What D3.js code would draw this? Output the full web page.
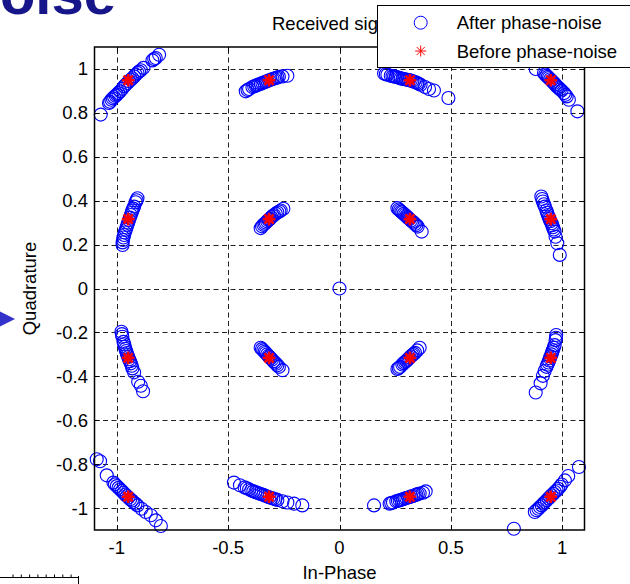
<!DOCTYPE html>
<html>
<head>
<meta charset="utf-8">
<script src="https://cdn.jsdelivr.net/npm/d3@7"></script>
<style>
  body { margin: 0; background: #fff; }
  svg { display: block; font-family: "Liberation Sans", Arial, sans-serif; }
</style>
</head>
<body>
<script>
const W = 630, H = 584;

// axis ticks
const xTicks = [-1, -0.5, 0, 0.5, 1];
const yTicks = [-1, -0.8, -0.6, -0.4, -0.2, 0, 0.2, 0.4, 0.6, 0.8, 1];
const xTickLabels = ["-1", "-0.5", "0", "0.5", "1"];
const yTickLabels = ["-1", "-0.8", "-0.6", "-0.4", "-0.2", "0", "0.2", "0.4", "0.6", "0.8", "1"];

// 16-QAM symbols before phase noise
const idealLevels = [-0.9487, -0.3162, 0.3162, 0.9487];

// received symbols after phase noise, [I, Q]
const rxUpperLeft = [
  [-1.072,0.792],[-1.035,0.845],[-1.030,0.850],[-1.024,0.860],[-1.018,0.866],[-1.012,0.872],[-1.005,0.878],[-1.000,0.883],
  [-0.993,0.890],[-0.985,0.898],[-0.975,0.910],[-0.967,0.921],[-0.960,0.928],[-0.952,0.936],[-0.945,0.944],[-0.937,0.951],
  [-0.930,0.958],[-0.922,0.966],[-0.915,0.974],[-0.907,0.982],[-0.900,0.988],[-0.892,0.994],[-0.880,1.005],[-0.840,1.039],
  [-0.832,1.045],[-0.825,1.050],[-0.810,1.065],
  [-0.421,0.898],[-0.413,0.904],[-0.406,0.909],[-0.391,0.918],[-0.383,0.921],[-0.376,0.924],[-0.368,0.927],[-0.361,0.930],
  [-0.353,0.933],[-0.346,0.936],[-0.338,0.939],[-0.331,0.942],[-0.324,0.945],[-0.316,0.948],[-0.309,0.951],[-0.301,0.954],
  [-0.294,0.956],[-0.286,0.959],[-0.279,0.961],[-0.272,0.964],[-0.256,0.966],[-0.234,0.969],
  [-0.907,0.411],[-0.911,0.402],[-0.915,0.393],[-0.922,0.373],[-0.926,0.364],[-0.930,0.355],[-0.933,0.345],[-0.937,0.335],
  [-0.941,0.323],[-0.945,0.312],[-0.949,0.300],[-0.952,0.290],[-0.956,0.278],[-0.960,0.267],[-0.964,0.255],[-0.967,0.244],
  [-0.970,0.232],[-0.972,0.221],[-0.974,0.210],[-0.974,0.198],
  [-0.354,0.275],[-0.348,0.283],[-0.342,0.290],[-0.336,0.295],[-0.331,0.300],[-0.325,0.306],[-0.319,0.312],[-0.315,0.315],
  [-0.312,0.318],[-0.306,0.325],[-0.300,0.330],[-0.294,0.335],[-0.286,0.341],[-0.279,0.346],[-0.270,0.351],[-0.264,0.355],
  [-0.252,0.363]
];
const rxUpperRight = [
  [0.200,0.979],[0.208,0.976],[0.215,0.974],[0.230,0.969],[0.238,0.967],[0.245,0.966],[0.252,0.964],[0.260,0.962],
  [0.268,0.960],[0.275,0.957],[0.283,0.955],[0.290,0.954],[0.298,0.952],[0.305,0.951],[0.312,0.949],[0.320,0.947],
  [0.327,0.945],[0.334,0.942],[0.342,0.939],[0.349,0.936],[0.356,0.932],[0.364,0.928],[0.384,0.918],[0.402,0.909],
  [0.424,0.902],[0.489,0.868],
  [0.881,1.000],[0.918,0.982],[0.924,0.975],[0.929,0.969],[0.935,0.964],[0.940,0.959],[0.946,0.953],[0.952,0.947],
  [0.958,0.941],[0.963,0.936],[0.968,0.930],[0.973,0.924],[0.979,0.918],[0.985,0.913],[0.990,0.907],[0.997,0.902],
  [1.008,0.890],[1.014,0.882],[1.020,0.875],[1.030,0.860],[1.068,0.807],
  [0.260,0.366],[0.266,0.360],[0.272,0.355],[0.277,0.350],[0.282,0.346],[0.288,0.340],[0.294,0.335],[0.300,0.330],
  [0.305,0.325],[0.310,0.320],[0.315,0.316],[0.321,0.310],[0.327,0.305],[0.333,0.300],[0.339,0.294],[0.345,0.288],
  [0.351,0.282],[0.369,0.259],
  [0.906,0.419],[0.910,0.408],[0.913,0.396],[0.918,0.384],[0.922,0.373],[0.929,0.355],[0.932,0.345],[0.936,0.335],
  [0.940,0.325],[0.943,0.316],[0.947,0.306],[0.952,0.297],[0.955,0.288],[0.958,0.279],[0.962,0.269],[0.966,0.259],
  [0.970,0.236],[0.978,0.206],[0.989,0.153]
];
const rxLowerLeft = [
  [-0.979,-0.197],[-0.977,-0.208],[-0.975,-0.220],[-0.970,-0.243],[-0.967,-0.254],[-0.964,-0.265],[-0.961,-0.275],
  [-0.958,-0.285],[-0.955,-0.294],[-0.952,-0.303],[-0.948,-0.312],[-0.945,-0.322],[-0.941,-0.331],[-0.937,-0.341],
  [-0.933,-0.352],[-0.930,-0.364],[-0.922,-0.382],[-0.904,-0.425],[-0.892,-0.443],[-0.882,-0.468],
  [-0.354,-0.270],[-0.348,-0.276],[-0.342,-0.282],[-0.336,-0.288],[-0.331,-0.294],[-0.325,-0.300],[-0.319,-0.307],
  [-0.314,-0.312],[-0.309,-0.318],[-0.303,-0.324],[-0.297,-0.331],[-0.291,-0.337],[-0.285,-0.343],[-0.279,-0.350],
  [-0.272,-0.357],[-0.256,-0.372],
  [-1.090,-0.778],[-1.075,-0.787],[-1.045,-0.851],[-1.015,-0.884],[-1.008,-0.892],[-1.000,-0.900],[-0.992,-0.908],
  [-0.985,-0.915],[-0.977,-0.922],[-0.970,-0.930],[-0.962,-0.938],[-0.955,-0.945],[-0.947,-0.952],[-0.940,-0.960],
  [-0.932,-0.966],[-0.925,-0.973],[-0.916,-0.980],[-0.907,-0.988],[-0.889,-1.003],[-0.870,-1.018],[-0.847,-1.033],
  [-0.825,-1.056],[-0.802,-1.082],
  [-0.474,-0.884],[-0.447,-0.896],[-0.426,-0.906],[-0.416,-0.910],[-0.406,-0.915],[-0.396,-0.920],[-0.387,-0.924],
  [-0.378,-0.927],[-0.369,-0.930],[-0.360,-0.934],[-0.351,-0.937],[-0.342,-0.940],[-0.333,-0.944],[-0.324,-0.948],
  [-0.315,-0.951],[-0.306,-0.954],[-0.297,-0.957],[-0.288,-0.960],[-0.279,-0.963],[-0.256,-0.969],[-0.234,-0.975],
  [-0.204,-0.980],[-0.167,-0.988]
];
const rxLowerRight = [
  [0.260,-0.367],[0.266,-0.362],[0.272,-0.357],[0.282,-0.346],[0.288,-0.340],[0.294,-0.335],[0.300,-0.330],[0.305,-0.325],
  [0.310,-0.320],[0.315,-0.314],[0.321,-0.309],[0.327,-0.303],[0.333,-0.298],[0.339,-0.293],[0.349,-0.282],[0.360,-0.270],
  [0.973,-0.212],[0.972,-0.224],[0.970,-0.235],[0.966,-0.258],[0.962,-0.270],[0.958,-0.281],[0.955,-0.290],[0.952,-0.300],
  [0.948,-0.309],[0.945,-0.318],[0.941,-0.328],[0.938,-0.337],[0.933,-0.347],[0.929,-0.357],[0.921,-0.376],[0.913,-0.398],
  [0.903,-0.432],[0.881,-0.474],
  [0.155,-0.988],[0.225,-0.980],[0.232,-0.977],[0.240,-0.975],[0.255,-0.969],[0.262,-0.967],[0.270,-0.965],[0.277,-0.962],
  [0.285,-0.960],[0.292,-0.957],[0.300,-0.954],[0.308,-0.952],[0.315,-0.950],[0.322,-0.947],[0.330,-0.945],[0.338,-0.942],
  [0.345,-0.939],[0.352,-0.936],[0.360,-0.934],[0.375,-0.930],[0.387,-0.924],
  [0.783,-1.094],[0.877,-1.018],[0.885,-1.010],[0.893,-1.003],[0.900,-0.995],[0.908,-0.988],[0.915,-0.980],[0.922,-0.973],
  [0.930,-0.965],[0.938,-0.957],[0.945,-0.950],[0.952,-0.942],[0.960,-0.935],[0.967,-0.927],[0.975,-0.920],[0.982,-0.912],
  [0.990,-0.903],[0.997,-0.893],[1.012,-0.874],[1.027,-0.854],[1.075,-0.813]
];
const rxCentre = [[0, 0]];

const titleText = "Received signal";
const xLabel = "In-Phase";
const yLabel = "Quadrature";
const legendLabels = ["After phase-noise", "Before phase-noise"];

const svg = d3.select("body").append("svg").attr("width", W).attr("height", H);

const plot = {left: 94.5, right: 584.5, top: 47, bottom: 530};
const x = d3.scaleLinear().domain([-1.1, 1.1]).range([plot.left, plot.right]);
const y = d3.scaleLinear().domain([-1.1, 1.1]).range([plot.bottom, plot.top]);

// slide decoration around the cropped figure
svg.append("text").attr("x", 116).attr("y", 14).attr("text-anchor", "end")
  .attr("font-size", 58).attr("font-weight", "bold").attr("fill", "#16168a")
  .text("Phase Noise");
svg.append("path").attr("d", "M0,311.5 L15,319 L0,326.5 Z").attr("fill", "#3333cc");
let ruler = svg.append("g").attr("stroke", "#000").attr("stroke-width", 1).attr("fill", "none");
ruler.append("line").attr("x1", 0).attr("x2", 79).attr("y1", 577.5).attr("y2", 577.5);
ruler.append("line").attr("x1", 78.5).attr("x2", 78.5).attr("y1", 576).attr("y2", 584);
d3.range(13, 78, 8.3).forEach(t => {
  ruler.append("line").attr("x1", t).attr("x2", t).attr("y1", 577.5).attr("y2", 574.5);
});

// grid
let grid = svg.append("g").attr("stroke", "#222").attr("stroke-width", 1).attr("stroke-dasharray", "5,3.5");
grid.selectAll(".gx").data(xTicks).enter().append("line")
  .attr("x1", d => Math.round(x(d)) + 0.5).attr("x2", d => Math.round(x(d)) + 0.5)
  .attr("y1", plot.bottom).attr("y2", plot.top);
grid.selectAll(".gy").data(yTicks).enter().append("line")
  .attr("y1", d => Math.round(y(d)) + 0.5).attr("y2", d => Math.round(y(d)) + 0.5)
  .attr("x1", plot.left).attr("x2", plot.right);

// received points
const received = rxUpperLeft.concat(rxUpperRight, rxLowerLeft, rxLowerRight, rxCentre);
svg.append("g").selectAll("circle").data(received).enter().append("circle")
  .attr("cx", d => x(d[0])).attr("cy", d => y(d[1])).attr("r", 6.5)
  .attr("fill", "none").attr("stroke", "#0000ff").attr("stroke-width", 1.1);

// ideal points
const ideal = [];
idealLevels.forEach(i => idealLevels.forEach(q => ideal.push([i, q])));
function starPath(s) {
  const k = s * 0.72;
  return `M${-s},0L${s},0M0,${-s}L0,${s}M${-k},${-k}L${k},${k}M${-k},${k}L${k},${-k}`;
}
svg.append("g").selectAll("path").data(ideal).enter().append("path")
  .attr("transform", d => `translate(${x(d[0])},${y(d[1])})`)
  .attr("d", starPath(6.3)).attr("stroke", "#ff0000").attr("stroke-width", 2.6).attr("fill", "none");

// axes box and inward ticks
const axisFont = 18.5;
svg.append("rect").attr("x", plot.left).attr("y", plot.top)
  .attr("width", plot.right - plot.left).attr("height", plot.bottom - plot.top)
  .attr("fill", "none").attr("stroke", "#000").attr("stroke-width", 1.5);

let ticks = svg.append("g").attr("stroke", "#000").attr("stroke-width", 1);
xTicks.forEach(t => {
  const px = Math.round(x(t)) + 0.5;
  ticks.append("line").attr("x1", px).attr("x2", px).attr("y1", plot.bottom).attr("y2", plot.bottom - 5);
  ticks.append("line").attr("x1", px).attr("x2", px).attr("y1", plot.top).attr("y2", plot.top + 5);
});
yTicks.forEach(t => {
  const py = Math.round(y(t)) + 0.5;
  ticks.append("line").attr("y1", py).attr("y2", py).attr("x1", plot.left).attr("x2", plot.left + 5);
  ticks.append("line").attr("y1", py).attr("y2", py).attr("x1", plot.right).attr("x2", plot.right - 5);
});

svg.append("g").selectAll("text").data(xTicks).enter().append("text")
  .attr("x", d => x(d)).attr("y", 554).attr("text-anchor", "middle")
  .attr("font-size", axisFont).text((d, i) => xTickLabels[i]);
svg.append("g").selectAll("text").data(yTicks).enter().append("text")
  .attr("x", 88).attr("y", d => y(d) + 6.5).attr("text-anchor", "end")
  .attr("font-size", axisFont).text((d, i) => yTickLabels[i]);

svg.append("text").attr("x", (plot.left + plot.right) / 2).attr("y", 579)
  .attr("text-anchor", "middle").attr("font-size", axisFont).text(xLabel);
svg.append("text").attr("transform", `translate(36,${(plot.top + plot.bottom) / 2}) rotate(-90)`)
  .attr("text-anchor", "middle").attr("font-size", axisFont).text(yLabel);
svg.append("text").attr("x", 272).attr("y", 30).attr("font-size", axisFont).text(titleText);

// legend
let legend = svg.append("g");
legend.append("rect").attr("x", 377.5).attr("y", 5.5).attr("width", 260).attr("height", 62)
  .attr("fill", "#fff").attr("stroke", "#000").attr("stroke-width", 1);
legend.append("circle").attr("cx", 420.7).attr("cy", 22.7).attr("r", 6.5)
  .attr("fill", "none").attr("stroke", "#0000ff");
legend.append("path").attr("transform", "translate(420.7,51)").attr("d", starPath(5.5))
  .attr("stroke", "#ff0000").attr("stroke-width", 1).attr("fill", "none");
legend.selectAll(".lt").data(legendLabels).enter().append("text")
  .attr("x", 456.7).attr("y", (d, i) => 29 + i * 28.7).attr("font-size", axisFont).text(d => d);
</script>
</body>
</html>
